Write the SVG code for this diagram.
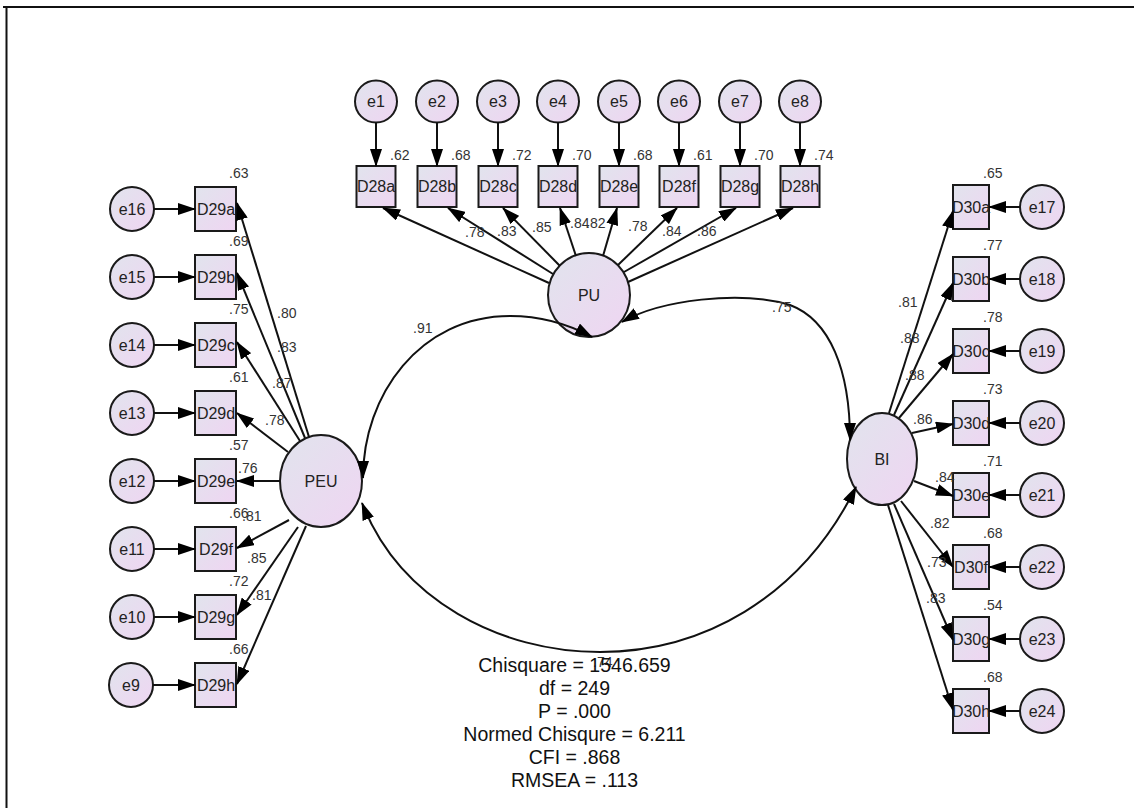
<svg xmlns="http://www.w3.org/2000/svg" width="1134" height="808" viewBox="0 0 1134 808">
<defs>
<linearGradient id="g" x1="0" y1="0" x2="1" y2="1">
<stop offset="0" stop-color="#e1e4ed"/>
<stop offset="1" stop-color="#efd5f2"/>
</linearGradient>
<marker id="ah" viewBox="0 0 18 12" refX="17" refY="6" markerWidth="18" markerHeight="12" markerUnits="userSpaceOnUse" orient="auto">
<path d="M0,0 L18,6 L0,12 z" fill="#000"/>
</marker>
<marker id="ahs" viewBox="0 0 18 12" refX="17" refY="6" markerWidth="18" markerHeight="12" markerUnits="userSpaceOnUse" orient="auto-start-reverse">
<path d="M0,0 L18,6 L0,12 z" fill="#000"/>
</marker>
</defs>
<style>
.n{fill:url(#g);stroke:#1a1a1a;stroke-width:2}
.t{font-family:"Liberation Sans",Arial,sans-serif;font-size:16px;fill:#222;text-anchor:middle}
.c{font-family:"Liberation Sans",Arial,sans-serif;font-size:14px;fill:#333}
.s{font-family:"Liberation Sans",Arial,sans-serif;font-size:19.5px;fill:#111;text-anchor:middle}
.l{stroke:#111;stroke-width:2;fill:none;marker-end:url(#ah)}
.cv{stroke:#111;stroke-width:2;fill:none;marker-start:url(#ahs);marker-end:url(#ah)}
</style>
<rect width="1134" height="808" fill="#fff"/>
<path d="M3,7 H1134 M6.5,7 V808" stroke="#111" stroke-width="2" fill="none"/>

<!-- top error terms and indicators -->
<g id="e1"><circle class="n" cx="376" cy="101.5" r="21"/><text class="t" x="376" y="107">e1</text></g>
<g id="e2"><circle class="n" cx="437" cy="101.5" r="21"/><text class="t" x="437" y="107">e2</text></g>
<g id="e3"><circle class="n" cx="498" cy="101.5" r="21"/><text class="t" x="498" y="107">e3</text></g>
<g id="e4"><circle class="n" cx="558" cy="101.5" r="21"/><text class="t" x="558" y="107">e4</text></g>
<g id="e5"><circle class="n" cx="619" cy="101.5" r="21"/><text class="t" x="619" y="107">e5</text></g>
<g id="e6"><circle class="n" cx="679" cy="101.5" r="21"/><text class="t" x="679" y="107">e6</text></g>
<g id="e7"><circle class="n" cx="740" cy="101.5" r="21"/><text class="t" x="740" y="107">e7</text></g>
<g id="e8"><circle class="n" cx="800" cy="101.5" r="21"/><text class="t" x="800" y="107">e8</text></g>

<g id="D28a"><rect class="n" x="356.5" y="166" width="39" height="41"/><text class="t" x="376" y="192">D28a</text></g>
<g id="D28b"><rect class="n" x="417.5" y="166" width="39" height="41"/><text class="t" x="437" y="192">D28b</text></g>
<g id="D28c"><rect class="n" x="478.5" y="166" width="39" height="41"/><text class="t" x="498" y="192">D28c</text></g>
<g id="D28d"><rect class="n" x="538.5" y="166" width="39" height="41"/><text class="t" x="558" y="192">D28d</text></g>
<g id="D28e"><rect class="n" x="599.5" y="166" width="39" height="41"/><text class="t" x="619" y="192">D28e</text></g>
<g id="D28f"><rect class="n" x="659.5" y="166" width="39" height="41"/><text class="t" x="679" y="192">D28f</text></g>
<g id="D28g"><rect class="n" x="720.5" y="166" width="39" height="41"/><text class="t" x="740" y="192">D28g</text></g>
<g id="D28h"><rect class="n" x="780.5" y="166" width="39" height="41"/><text class="t" x="800" y="192">D28h</text></g>

<!-- left -->
<g id="e16"><circle class="n" cx="132" cy="209" r="22"/><text class="t" x="132" y="215">e16</text></g>
<g id="e15"><circle class="n" cx="132" cy="277" r="22"/><text class="t" x="132" y="283">e15</text></g>
<g id="e14"><circle class="n" cx="132" cy="345" r="22"/><text class="t" x="132" y="351">e14</text></g>
<g id="e13"><circle class="n" cx="132" cy="413" r="22"/><text class="t" x="132" y="419">e13</text></g>
<g id="e12"><circle class="n" cx="132" cy="481" r="22"/><text class="t" x="132" y="487">e12</text></g>
<g id="e11"><circle class="n" cx="132" cy="549" r="22"/><text class="t" x="132" y="555">e11</text></g>
<g id="e10"><circle class="n" cx="132" cy="617" r="22"/><text class="t" x="132" y="623">e10</text></g>
<g id="e9"><circle class="n" cx="131" cy="685" r="22"/><text class="t" x="131" y="691">e9</text></g>

<g id="D29a"><rect class="n" x="195" y="187" width="41" height="44"/><text class="t" x="216" y="215">D29a</text></g>
<g id="D29b"><rect class="n" x="195" y="255" width="41" height="44"/><text class="t" x="216" y="283">D29b</text></g>
<g id="D29c"><rect class="n" x="195" y="323" width="41" height="44"/><text class="t" x="216" y="351">D29c</text></g>
<g id="D29d"><rect class="n" x="195" y="391" width="41" height="44"/><text class="t" x="216" y="419">D29d</text></g>
<g id="D29e"><rect class="n" x="195" y="459" width="41" height="44"/><text class="t" x="216" y="487">D29e</text></g>
<g id="D29f"><rect class="n" x="195" y="527" width="41" height="44"/><text class="t" x="216" y="555">D29f</text></g>
<g id="D29g"><rect class="n" x="195" y="595" width="41" height="44"/><text class="t" x="216" y="623">D29g</text></g>
<g id="D29h"><rect class="n" x="195" y="663" width="41" height="44"/><text class="t" x="216" y="691">D29h</text></g>

<!-- right -->
<g id="D30a"><rect class="n" x="953" y="185" width="36" height="44"/><text class="t" x="971" y="213">D30a</text></g>
<g id="D30b"><rect class="n" x="953" y="257" width="36" height="44"/><text class="t" x="971" y="285">D30b</text></g>
<g id="D30c"><rect class="n" x="953" y="329" width="36" height="44"/><text class="t" x="971" y="357">D30c</text></g>
<g id="D30d"><rect class="n" x="953" y="401" width="36" height="44"/><text class="t" x="971" y="429">D30d</text></g>
<g id="D30e"><rect class="n" x="953" y="473" width="36" height="44"/><text class="t" x="971" y="501">D30e</text></g>
<g id="D30f"><rect class="n" x="953" y="545" width="36" height="44"/><text class="t" x="971" y="573">D30f</text></g>
<g id="D30g"><rect class="n" x="953" y="617" width="36" height="44"/><text class="t" x="971" y="645">D30g</text></g>
<g id="D30h"><rect class="n" x="953" y="689" width="36" height="44"/><text class="t" x="971" y="717">D30h</text></g>

<g id="e17"><circle class="n" cx="1042" cy="207" r="22"/><text class="t" x="1042" y="213">e17</text></g>
<g id="e18"><circle class="n" cx="1042" cy="279" r="22"/><text class="t" x="1042" y="285">e18</text></g>
<g id="e19"><circle class="n" cx="1042" cy="351" r="22"/><text class="t" x="1042" y="357">e19</text></g>
<g id="e20"><circle class="n" cx="1042" cy="423" r="22"/><text class="t" x="1042" y="429">e20</text></g>
<g id="e21"><circle class="n" cx="1042" cy="495" r="22"/><text class="t" x="1042" y="501">e21</text></g>
<g id="e22"><circle class="n" cx="1042" cy="567" r="22"/><text class="t" x="1042" y="573">e22</text></g>
<g id="e23"><circle class="n" cx="1042" cy="639" r="22"/><text class="t" x="1042" y="645">e23</text></g>
<g id="e24"><circle class="n" cx="1042" cy="711" r="22"/><text class="t" x="1042" y="717">e24</text></g>

<!-- latents -->
<g id="PU"><ellipse class="n" cx="589" cy="295" rx="41" ry="42"/><text class="t" x="589" y="301">PU</text></g>
<g id="PEU"><ellipse class="n" cx="321" cy="481" rx="41" ry="46"/><text class="t" x="321" y="487">PEU</text></g>
<g id="BI"><ellipse class="n" cx="882" cy="459" rx="35" ry="46"/><text class="t" x="882" y="465">BI</text></g>

<!-- connectors -->
<g id="connectors">
<path class="l" d="M376,122.5 V166"/>
<path class="l" d="M437,122.5 V166"/>
<path class="l" d="M498,122.5 V166"/>
<path class="l" d="M558,122.5 V166"/>
<path class="l" d="M619,122.5 V166"/>
<path class="l" d="M679,122.5 V166"/>
<path class="l" d="M740,122.5 V166"/>
<path class="l" d="M800,122.5 V166"/>

<path class="l" d="M154,209 H195"/>
<path class="l" d="M154,277 H195"/>
<path class="l" d="M154,345 H195"/>
<path class="l" d="M154,413 H195"/>
<path class="l" d="M154,481 H195"/>
<path class="l" d="M154,549 H195"/>
<path class="l" d="M154,617 H195"/>
<path class="l" d="M153,685 H195"/>

<path class="l" d="M1020,207 H989"/>
<path class="l" d="M1020,279 H989"/>
<path class="l" d="M1020,351 H989"/>
<path class="l" d="M1020,423 H989"/>
<path class="l" d="M1020,495 H989"/>
<path class="l" d="M1020,567 H989"/>
<path class="l" d="M1020,639 H989"/>
<path class="l" d="M1020,711 H989"/>

<path class="l" d="M549,283 L383,208"/>
<path class="l" d="M553,274 L448,208"/>
<path class="l" d="M560,266 L503,208"/>
<path class="l" d="M576,256 L560,208"/>
<path class="l" d="M603,256 L617,208"/>
<path class="l" d="M618,265 L677,208"/>
<path class="l" d="M624,272 L736,208"/>
<path class="l" d="M628,282 L793,208"/>

<path class="l" d="M309,437 L237,203"/>
<path class="l" d="M305,438 L237,273"/>
<path class="l" d="M300,441 L237,342"/>
<path class="l" d="M288,452 L237,413"/>
<path class="l" d="M280,481 L237,481"/>
<path class="l" d="M289,520 L237,548"/>
<path class="l" d="M298,527 L237,615"/>
<path class="l" d="M306,526 L237,684"/>

<path class="l" d="M889,413 L953,211"/>
<path class="l" d="M894,415 L953,283"/>
<path class="l" d="M899,418 L953,354"/>
<path class="l" d="M912,433 L953,424"/>
<path class="l" d="M914,481 L953,496"/>
<path class="l" d="M901,501 L953,567"/>
<path class="l" d="M894,504 L953,640"/>
<path class="l" d="M888,505 L953,710"/>

<path class="cv" d="M592,337 C570,325 545,316 510,316 C420,316 363,395 363,478"/>
<path class="cv" d="M622,322 C660,300 740,290 790,305 C830,320 850,370 850,440"/>
<path class="cv" d="M362,503 C400,600 500,652 600,652 C700,652 800,600 856,487"/>
</g>

<!-- coefficient labels -->
<g id="labels">
<text class="c" x="390" y="160">.62</text>
<text class="c" x="451" y="160">.68</text>
<text class="c" x="512" y="160">.72</text>
<text class="c" x="572" y="160">.70</text>
<text class="c" x="633" y="160">.68</text>
<text class="c" x="693" y="160">.61</text>
<text class="c" x="754" y="160">.70</text>
<text class="c" x="814" y="160">.74</text>

<text class="c" x="465" y="237">.78</text>
<text class="c" x="497" y="236">.83</text>
<text class="c" x="532" y="232">.85</text>
<text class="c" x="570" y="228">.84</text>
<text class="c" x="586" y="228">.82</text>
<text class="c" x="628" y="231">.78</text>
<text class="c" x="662" y="236">.84</text>
<text class="c" x="697" y="236">.86</text>

<text class="c" x="229" y="178">.63</text>
<text class="c" x="229" y="246">.69</text>
<text class="c" x="229" y="314">.75</text>
<text class="c" x="229" y="382">.61</text>
<text class="c" x="229" y="450">.57</text>
<text class="c" x="229" y="518">.66</text>
<text class="c" x="229" y="586">.72</text>
<text class="c" x="229" y="654">.66</text>

<text class="c" x="277" y="318">.80</text>
<text class="c" x="277" y="352">.83</text>
<text class="c" x="272" y="388">.87</text>
<text class="c" x="265" y="425">.78</text>
<text class="c" x="238" y="473">.76</text>
<text class="c" x="242" y="521">.81</text>
<text class="c" x="247" y="563">.85</text>
<text class="c" x="252" y="600">.81</text>

<text class="c" x="983" y="178">.65</text>
<text class="c" x="983" y="250">.77</text>
<text class="c" x="983" y="322">.78</text>
<text class="c" x="983" y="394">.73</text>
<text class="c" x="983" y="466">.71</text>
<text class="c" x="983" y="538">.68</text>
<text class="c" x="983" y="610">.54</text>
<text class="c" x="983" y="682">.68</text>

<text class="c" x="898" y="307">.81</text>
<text class="c" x="900" y="343">.88</text>
<text class="c" x="905" y="380">.88</text>
<text class="c" x="913" y="424">.86</text>
<text class="c" x="935" y="482">.84</text>
<text class="c" x="930" y="528">.82</text>
<text class="c" x="927" y="567">.73</text>
<text class="c" x="926" y="603">.83</text>

<text class="c" x="413" y="333">.91</text>
<text class="c" x="772" y="312">.75</text>
<text class="c" x="593" y="667">.74</text>
</g>

<g id="fit">
<text class="s" x="574.5" y="672">Chisquare = 1546.659</text>
<text class="s" x="574.5" y="695">df = 249</text>
<text class="s" x="574.5" y="718">P = .000</text>
<text class="s" x="574.5" y="741">Normed Chisqure = 6.211</text>
<text class="s" x="574.5" y="764">CFI = .868</text>
<text class="s" x="574.5" y="787">RMSEA = .113</text>
</g>
</svg>
